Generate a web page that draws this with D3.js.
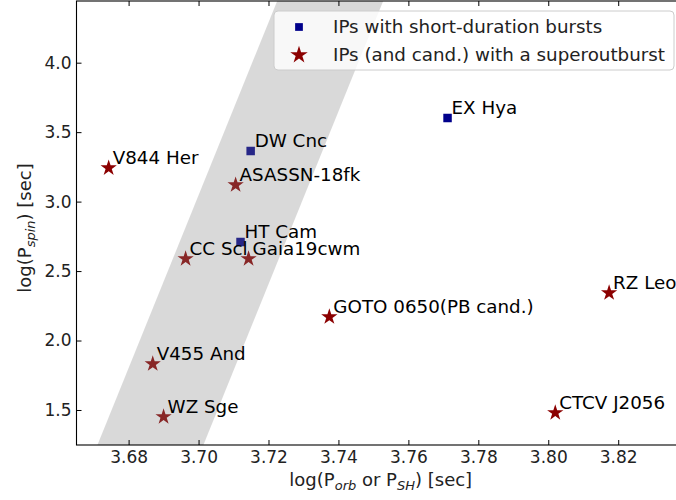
<!DOCTYPE html>
<html>
<head>
<meta charset="utf-8">
<script src="https://cdn.jsdelivr.net/npm/d3@7"></script>
<style>
  body { margin: 0; background: #fff; }
  text { font-family: "DejaVu Sans", sans-serif; }
</style>
</head>
<body>
<svg width="676" height="500"></svg>
<script>
// data
var shortNames = ['EX Hya', 'DW Cnc', 'HT Cam'];
var shortOrb   = [3.7712, 3.7149, 3.7120];
var shortSpin  = [3.602, 3.365, 2.710];

var superNames = ['V844 Her', 'ASASSN-18fk', 'CC Scl', 'Gaia19cwm', 'GOTO 0650(PB cand.)',
                  'RZ Leo', 'CTCV J2056', 'V455 And', 'WZ Sge'];
var superOrb   = [3.6743, 3.7106, 3.6963, 3.7143, 3.7374, 3.8174, 3.8020, 3.6869, 3.6900];
var superSpin  = [3.242, 3.120, 2.588, 2.588, 2.170, 2.343, 1.480, 1.832, 1.451];

// grey band corners (orb, spin)
var bandOrb  = [3.6671, 3.7250, 3.7553, 3.6974];
var bandSpin = [1.0, 4.6, 4.6, 1.0];

var xTicks = [3.68, 3.70, 3.72, 3.74, 3.76, 3.78, 3.80, 3.82];
var yTicks = [1.5, 2.0, 2.5, 3.0, 3.5, 4.0];

var legendLabels = ['IPs with short-duration bursts', 'IPs (and cand.) with a superoutburst'];

(function () {
  var svg = d3.select('svg');
  var mLeft = 76.5, mTop = 1, mRight = 685, mBottom = 445;

  var x = d3.scaleLinear().domain([3.6651, 3.8391]).range([mLeft, mRight]);
  var y = d3.scaleLinear().domain([1.248, 4.444]).range([mBottom, mTop]);

  svg.append('clipPath').attr('id', 'clip')
    .append('rect')
    .attr('x', mLeft).attr('y', mTop)
    .attr('width', mRight - mLeft).attr('height', mBottom - mTop);

  var plot = svg.append('g').attr('clip-path', 'url(#clip)');

  var star = d3.symbol().type(d3.symbolStar).size(82);
  var square = d3.symbol().type(d3.symbolSquare).size(72);

  // markers
  plot.selectAll('.sq').data(shortNames).enter().append('path')
    .attr('class', 'sq')
    .attr('d', square)
    .attr('transform', function(d, i) { return 'translate(' + x(shortOrb[i]) + ',' + y(shortSpin[i]) + ')'; })
    .attr('fill', '#00008b');

  plot.selectAll('.st').data(superNames).enter().append('path')
    .attr('class', 'st')
    .attr('d', star)
    .attr('transform', function(d, i) { return 'translate(' + x(superOrb[i]) + ',' + y(superSpin[i]) + ')'; })
    .attr('fill', '#8b0000');

  // band drawn over markers
  plot.append('path')
    .attr('d', d3.line()(bandOrb.map(function(d, i) { return [x(d), y(bandSpin[i])]; })) + 'Z')
    .attr('fill', 'gray')
    .attr('fill-opacity', 0.3);

  // labels
  function addLabels(names, xs, ys) {
    names.forEach(function(n, i) {
      plot.append('text')
        .attr('x', x(xs[i]) + 4)
        .attr('y', y(ys[i]) - 4)
        .attr('font-size', 18.3)
        .attr('fill', '#000')
        .text(n);
    });
  }
  addLabels(shortNames, shortOrb, shortSpin);
  addLabels(superNames, superOrb, superSpin);

  // axes with inward ticks
  var xAxis = svg.append('g').attr('transform', 'translate(0,' + mBottom + ')')
    .call(d3.axisBottom(x).tickValues(xTicks).tickFormat(d3.format('.2f'))
      .tickSizeInner(-5).tickSizeOuter(0).tickPadding(6));
  var xTop = svg.append('g').attr('transform', 'translate(0,' + mTop + ')')
    .call(d3.axisTop(x).tickValues(xTicks).tickFormat('')
      .tickSizeInner(-5).tickSizeOuter(0));
  var yAxis = svg.append('g').attr('transform', 'translate(' + mLeft + ',0)')
    .call(d3.axisLeft(y).tickValues(yTicks).tickFormat(d3.format('.1f'))
      .tickSizeInner(-5).tickSizeOuter(0).tickPadding(5));

  [xAxis, xTop, yAxis].forEach(function(a) {
    a.select('.domain').remove();
    a.selectAll('line').attr('stroke', '#000').attr('stroke-width', 1);
    a.selectAll('text').attr('font-size', 17).attr('fill', '#222')
      .attr('font-family', '"DejaVu Sans", sans-serif');
  });

  // spines
  svg.append('rect')
    .attr('x', mLeft).attr('y', mTop)
    .attr('width', mRight - mLeft).attr('height', mBottom - mTop)
    .attr('fill', 'none').attr('stroke', '#000').attr('stroke-width', 1.1);

  // axis labels
  var xl = svg.append('text')
    .attr('x', (mLeft + mRight) / 2).attr('y', 486)
    .attr('text-anchor', 'middle').attr('font-size', 18).attr('fill', '#222');
  xl.append('tspan').text('log(P');
  xl.append('tspan').attr('font-size', 13).attr('font-style', 'italic').attr('dy', 4).text('orb');
  xl.append('tspan').attr('dy', -4).text(' or P');
  xl.append('tspan').attr('font-size', 13).attr('font-style', 'italic').attr('dy', 4).text('SH');
  xl.append('tspan').attr('dy', -4).text(') [sec]');

  var yl = svg.append('text')
    .attr('transform', 'translate(31,' + ((mTop + mBottom) / 2 + 5) + ') rotate(-90)')
    .attr('text-anchor', 'middle').attr('font-size', 18).attr('fill', '#222');
  yl.append('tspan').text('log(P');
  yl.append('tspan').attr('font-size', 13).attr('font-style', 'italic').attr('dy', 4).text('spin');
  yl.append('tspan').attr('dy', -4).text(') [sec]');

  // legend
  var lg = svg.append('g');
  lg.append('rect')
    .attr('x', 274).attr('y', 11).attr('width', 400).attr('height', 59)
    .attr('rx', 4).attr('fill', '#fff').attr('fill-opacity', 0.8)
    .attr('stroke', '#cccccc').attr('stroke-width', 1);
  lg.append('path').attr('d', d3.symbol().type(d3.symbolSquare).size(60))
    .attr('transform', 'translate(299,27)').attr('fill', '#00008b');
  lg.append('path').attr('d', d3.symbol().type(d3.symbolStar).size(95))
    .attr('transform', 'translate(299,55)').attr('fill', '#8b0000');
  legendLabels.forEach(function(t, i) {
    lg.append('text').attr('x', 333).attr('y', 27 + i * 28).attr('dy', '0.35em')
      .attr('font-size', 18.3).attr('fill', '#222').text(t);
  });
})();
</script>
</body>
</html>
